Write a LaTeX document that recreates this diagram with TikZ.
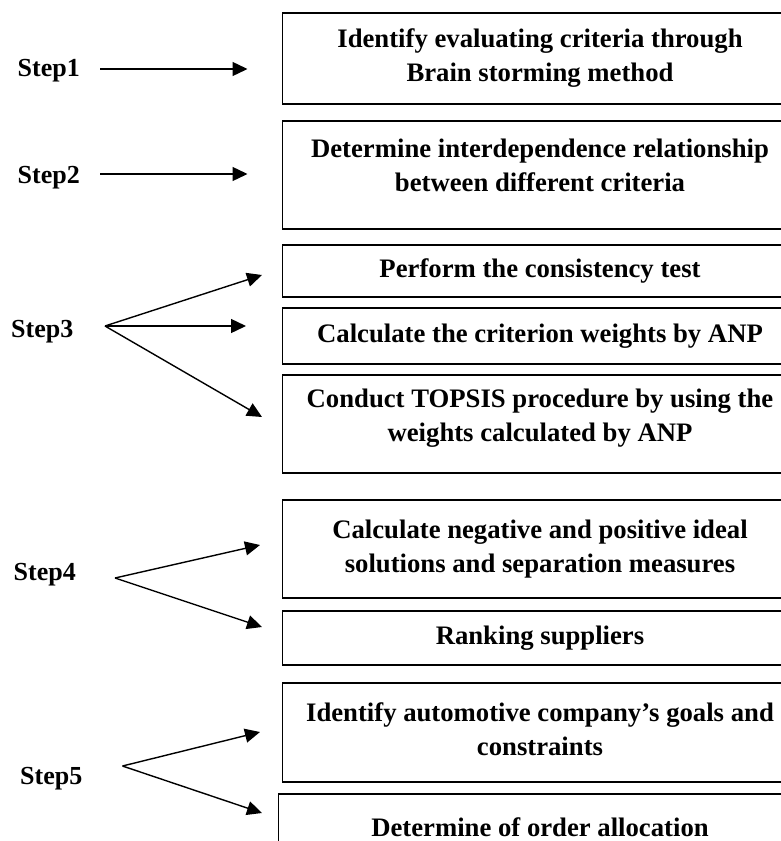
\documentclass[tikz,border=0pt]{standalone}
\usepackage{fontspec}
\setmainfont{Liberation Serif}
\usetikzlibrary{positioning, arrows.meta}

\tikzset{
    stepbox/.style={rectangle, draw=black, line width=1.4pt, align=center, inner sep=0pt,
        minimum width=515pt, font=\fontsize{26.7}{34}\selectfont\bfseries},
    steplabel/.style={anchor=base west, inner sep=0pt, font=\fontsize{26}{30}\selectfont\bfseries},
    arrow/.style={-{Triangle[length=15pt, width=14pt]}, line width=1.4pt, color=black},
}

\begin{document}
\begin{tikzpicture}[x={(1pt,0)}, y={(0,-1pt)}]
    \useasboundingbox (0,0) rectangle (781,841);
    \clip (0,0) rectangle (781,841);

    % Riquadri (tagliati sul bordo destro)
    \node[stepbox, minimum height=91pt] (b1) at (540,58.5)
        {Identify evaluating criteria through\\Brain storming method};
    \node[stepbox, minimum height=108pt, text depth=19pt] (b2) at (540,175)
        {Determine interdependence relationship\\between different criteria};
    \node[stepbox, minimum height=52pt] (b3) at (540,271)
        {Perform the consistency test};
    \node[stepbox, minimum height=56pt] (b4) at (540,336)
        {Calculate the criterion weights by ANP};
    \node[stepbox, minimum height=98pt, text depth=17pt] (b5) at (540,424)
        {Conduct TOPSIS procedure by using the\\weights calculated by ANP};
    \node[stepbox, minimum height=98pt] (b6) at (540,549)
        {Calculate negative and positive ideal\\solutions and separation measures};
    \node[stepbox, minimum height=54pt] (b7) at (540,638)
        {Ranking suppliers};
    \node[stepbox, minimum height=99pt, text depth=6pt] (b8) at (540,732.5)
        {Identify automotive company’s goals and\\constraints};
    \node[stepbox, minimum height=66pt, minimum width=523pt] (b9) at (540,827)
        {Determine of order allocation};

    % Etichette dei passi
    \node[steplabel] (s1) at (17.5,76) {Step1};
    \node[steplabel] (s2) at (17.5,183) {Step2};
    \node[steplabel] (s3) at (11,337) {Step3};
    \node[steplabel] (s4) at (13.5,580) {Step4};
    \node[steplabel] (s5) at (20,784) {Step5};

    % Punti di partenza e punte
    \coordinate (a1) at (100,69);    \coordinate (p1) at (247.5,69);
    \coordinate (a2) at (100,174);   \coordinate (p2) at (247.5,174);
    \coordinate (a3) at (105,326);
    \coordinate (p3a) at (262,275);   \coordinate (p3b) at (246,326); \coordinate (p3c) at (262,417);
    \coordinate (a4) at (115,578);
    \coordinate (p4a) at (260,545);   \coordinate (p4b) at (262,627);
    \coordinate (a5) at (122.5,766);
    \coordinate (p5a) at (260,732);   \coordinate (p5b) at (262,813);

    % Frecce
    \draw[arrow] (a1) -- (p1);
    \draw[arrow] (a2) -- (p2);
    \foreach \p in {p3a, p3b, p3c}
        \draw[arrow] (a3) -- (\p);
    \foreach \p in {p4a, p4b}
        \draw[arrow] (a4) -- (\p);
    \foreach \p in {p5a, p5b}
        \draw[arrow] (a5) -- (\p);
\end{tikzpicture}
\end{document}
